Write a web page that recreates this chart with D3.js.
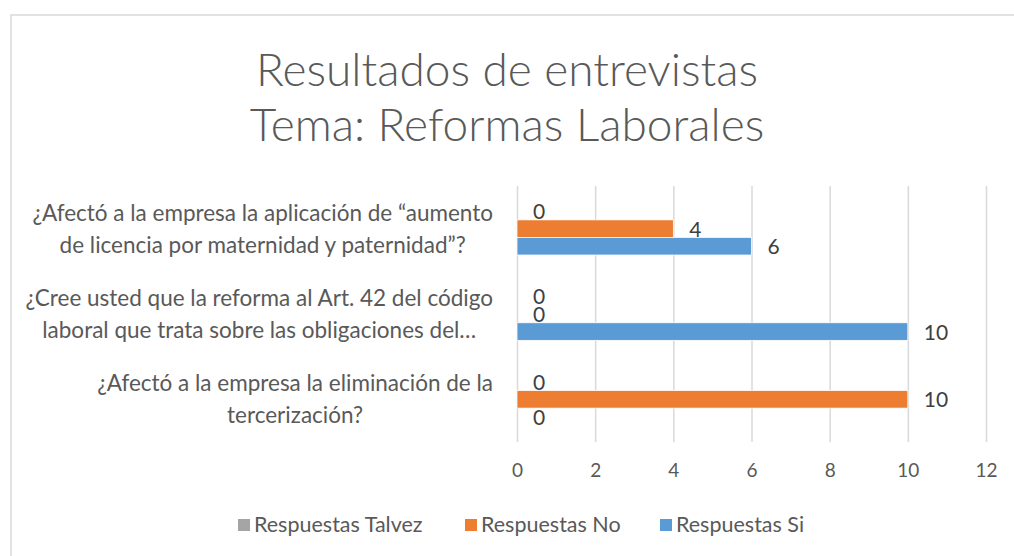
<!DOCTYPE html>
<html>
<head>
<meta charset="utf-8">
<script src="https://cdn.jsdelivr.net/npm/d3@7.9.0/dist/d3.min.js"></script>
<style>
  body { margin: 0; background: #fff; }
  svg { display: block; font-family: Lato, "Open Sans", sans-serif; }
</style>
</head>
<body>
<svg id="chart"></svg>
<script>
const categories = [
  ['¿Afectó a la empresa la aplicación de “aumento', 'de licencia por maternidad y paternidad”?'],
  ['¿Cree usted que la reforma al Art. 42 del código', 'laboral que trata sobre las obligaciones del…'],
  ['¿Afectó a la empresa la eliminación de la', 'tercerización?']
];
const seriesNames = ['Respuestas Talvez', 'Respuestas No', 'Respuestas Si'];
const seriesColors = ['#a5a5a5', '#ed7d31', '#5b9bd5'];
const talvez = [0, 0, 0];
const no = [4, 0, 10];
const si = [6, 10, 0];
const xTicks = [0, 2, 4, 6, 8, 10, 12];
const titleLines = ['Resultados de entrevistas', 'Tema: Reformas Laborales'];

const width = 1014;
const height = 556;
const svg = d3.select('#chart').attr('width', width).attr('height', height);

// chart frame
svg.append('rect')
  .attr('x', 11).attr('y', 15)
  .attr('width', width + 10).attr('height', height + 10)
  .attr('fill', '#fff').attr('stroke', '#d9d9d9').attr('stroke-width', 1.5);

// title
svg.append('g').selectAll('text')
  .data(titleLines)
  .join('text')
  .attr('x', 507)
  .attr('y', (d, i) => 86 + i * 55)
  .attr('text-anchor', 'middle')
  .attr('font-size', 46)
  .attr('font-weight', 300)
  .attr('fill', '#595959')
  .text((d) => d);

const area = { left: 517, right: 986, top: 186, bottom: 442 };

const xScale = d3.scaleLinear().domain([0, 12]).range([area.left, area.right]);
const yScale = d3.scaleBand()
  .domain(d3.range(categories.length))
  .range([area.top, area.bottom])
  .paddingInner(0.383)
  .paddingOuter(0.1915);
const inner = d3.scaleBand()
  .domain(d3.range(seriesNames.length))
  .range([0, yScale.bandwidth()]);

// gridlines
svg.append('g')
  .attr('transform', `translate(0, ${area.bottom})`)
  .call(d3.axisBottom(xScale).tickValues(xTicks).tickFormat('').tickSize(-(area.bottom - area.top)))
  .call((g) => g.select('.domain').remove())
  .call((g) => g.selectAll('line').attr('stroke', '#d9d9d9').attr('stroke-width', 1.5));

// x axis labels
svg.append('g')
  .attr('transform', `translate(0, ${area.bottom})`)
  .call(d3.axisBottom(xScale).tickValues(xTicks).tickSize(0).tickPadding(22))
  .call((g) => g.select('.domain').remove())
  .call((g) => g.selectAll('text')
    .attr('font-family', 'Lato, "Open Sans", sans-serif')
    .attr('font-size', 19).attr('fill', '#595959'));

// category labels
const catG = svg.append('g')
  .selectAll('text')
  .data(categories)
  .join('text')
  .attr('font-size', 22.5)
  .attr('fill', '#595959')
  .attr('text-anchor', 'middle');
catG.each(function (lines, i) {
  const cy = yScale(i) + yScale.bandwidth() / 2;
  const t = d3.select(this);
  lines.forEach((line, j) => {
    t.append('tspan')
      .attr('x', 0)
      .attr('y', cy + (j - (lines.length - 1) / 2) * 32 + 8)
      .text(line);
  });
  // lines centred on each other, block right aligned at 493
  const w = this.getBBox().width;
  t.selectAll('tspan').attr('x', 493 - w / 2);
});

// bars
const seriesData = [talvez, no, si];
const barRows = [];
seriesData.forEach((vals, s) => {
  vals.forEach((v, c) => barRows.push({ s, c, v }));
});

svg.append('g')
  .selectAll('rect')
  .data(barRows)
  .join('rect')
  .attr('x', xScale(0))
  .attr('y', (d) => yScale(d.c) + inner(d.s))
  .attr('width', (d) => xScale(d.v) - xScale(0))
  .attr('height', inner.bandwidth())
  .attr('fill', (d) => seriesColors[d.s])
  .attr('stroke', (d) => (d.v > 0 ? '#fff' : 'none'))
  .attr('stroke-width', 0.75);

// data labels
svg.append('g')
  .selectAll('text')
  .data(barRows)
  .join('text')
  .attr('x', (d) => xScale(d.v) + 16)
  .attr('y', (d) => yScale(d.c) + inner(d.s) + inner.bandwidth() / 2 + 8)
  .attr('font-size', 21)
  .attr('fill', '#404040')
  .text((d) => d.v);

// legend
const legendX = [238, 465, 660];
const legend = svg.append('g')
  .selectAll('g')
  .data(seriesNames)
  .join('g')
  .attr('transform', (d, i) => `translate(${legendX[i]}, 519)`);
legend.append('rect')
  .attr('width', 12).attr('height', 12)
  .attr('fill', (d, i) => seriesColors[i]);
legend.append('text')
  .attr('x', 16).attr('y', 13)
  .attr('font-size', 21.5)
  .attr('fill', '#595959')
  .text((d) => d);
</script>
</body>
</html>
